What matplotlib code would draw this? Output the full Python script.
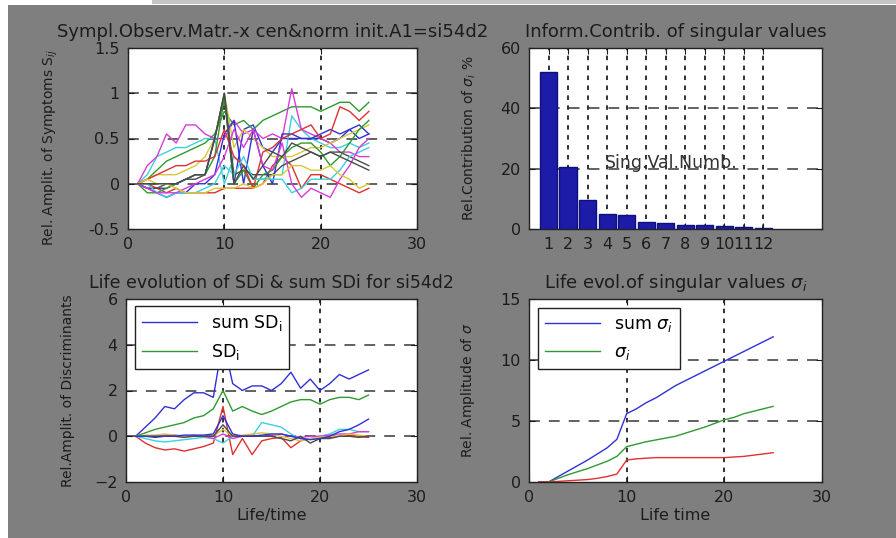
import numpy as np
import matplotlib.pyplot as plt
from matplotlib.patches import Rectangle

#%% data
life = list(range(1, 26))

# symptom amplitudes, one row per symptom (top left)
symptoms = [
    [0, -0.05, -0.05, -0.05, 0, 0.05, 0.1, 0.1, 0.5, 0.95, 0.0, 0.6, 0.65, 0.4, 0.35, 0.5, 0.5, 0.5, 0.5, 0.5, 0.45, 0.5, 0.6, 0.5, 0.55],
    [0, 0.05, 0.15, 0.25, 0.3, 0.35, 0.4, 0.45, 0.55, 0.8, 0.65, 0.7, 0.6, 0.7, 0.75, 0.8, 0.85, 0.85, 0.85, 0.8, 0.85, 0.9, 0.9, 0.8, 0.9],
    [0, 0, -0.05, -0.1, -0.05, -0.1, -0.1, -0.1, -0.1, -0.05, -0.05, -0.05, -0.05, 0, 0.2, 0.3, 0.2, -0.05, 0.1, 0.1, 0.05, 0.0, -0.05, -0.1, -0.05],
    [0, 0.1, 0.3, 0.35, 0.4, 0.4, 0.45, 0.5, 0.5, 0.0, 0.3, 0.2, 0.05, 0.05, 0.1, 0.1, 0.75, 0.6, 0.5, 0.45, 0.4, 0.4, 0.45, 0.4, 0.45],
    [0, 0.2, 0.3, 0.55, 0.45, 0.65, 0.65, 0.55, 0.5, 0.5, 0.7, 0.55, 0.6, 0.5, 0.55, 0.5, 1.05, 0.6, 0.55, 0.5, 0.45, 0.35, 0.35, 0.3, 0.3],
    [0, 0.05, 0.1, 0.1, 0.1, 0.15, 0.2, 0.3, 0.5, 1.0, 0.4, 0.6, 0.5, 0.4, 0.3, 0.3, 0.3, 0.35, 0.4, 0.4, 0.45, 0.5, 0.55, 0.6, 0.65],
    [0, -0.05, -0.05, 0, 0, 0.05, 0.05, 0.1, 0.5, 1.0, 0.1, 0.15, 0.1, 0.1, 0.1, 0.2, 0.25, 0.3, 0.35, 0.3, 0.35, 0.35, 0.3, 0.25, 0.2],
    [0, -0.05, -0.1, -0.15, -0.1, -0.1, 0.0, 0.0, 0.1, 0.55, 0.7, 0.0, 0.6, 0.2, 0.0, 0.55, 0.55, 0.5, 0.5, 0.55, 0.6, 0.55, 0.6, 0.65, 0.55],
    [0, -0.1, -0.1, -0.05, 0.0, 0.05, 0.1, 0.1, 0.3, 0.95, 0.0, 0.15, -0.05, 0.1, 0.15, 0.3, 0.4, 0.45, 0.45, 0.35, 0.2, 0.3, 0.45, 0.6, 0.7],
    [0, 0.05, 0.1, 0.15, 0.2, 0.2, 0.25, 0.25, 0.3, 0.6, 0.3, 0.2, -0.05, 0.35, 0.4, 0.5, 0.55, 0.6, 0.65, 0.5, 0.55, 0.85, 0.8, 0.7, 0.8],
    [0, 0, -0.1, -0.15, -0.1, -0.1, -0.1, -0.05, 0.0, 0.2, 0.1, 0.3, 0.05, 0.05, 0.05, 0.05, -0.1, -0.05, 0.05, 0.05, 0.05, 0.15, 0.3, 0.35, 0.4],
    [0, -0.05, -0.1, -0.1, -0.1, -0.05, 0.0, 0.05, 0.1, 0.3, 0.6, 0.4, 0.6, 0.2, 0.15, 0.45, 0.0, -0.15, -0.05, -0.1, -0.15, 0.05, 0.2, 0.4, 0.5],
    [0, 0.05, 0, 0.0, -0.05, -0.1, -0.1, -0.1, -0.05, -0.05, -0.05, 0.0, -0.05, 0.0, 0.1, 0.1, 0.2, 0.2, 0.15, 0.15, 0.2, 0.1, 0.05, -0.05, 0.0],
    [0, 0, 0, 0, 0, 0.05, 0.1, 0.1, 0.5, 1.0, 0.0, 0.2, 0.05, 0.2, 0.35, 0.3, 0.45, 0.4, 0.35, 0.3, 0.35, 0.3, 0.25, 0.2, 0.15],
]
sym_ticks = [-0.5, 0, 0.5, 1, 1.5]
sym_tick_labels = ['-0.5', '0', '0.5', '1', '1.5']

# singular value contributions (top right)
sing_num = list(range(1, 13))
sing_contrib = [52, 20.5, 9.5, 5, 4.7, 2.3, 2.0, 1.4, 1.4, 1.0, 0.5, 0.4]

# discriminants (bottom left)
sum_sd = [0, 0.4, 0.8, 1.3, 1.2, 1.6, 1.9, 1.9, 1.7, 4.2, 2.3, 2.0, 2.2, 2.2, 2.0, 2.3, 2.8, 2.1, 2.5, 2.0, 2.3, 2.7, 2.5, 2.7, 2.9]
sd = [
    [0, 0.15, 0.3, 0.4, 0.5, 0.6, 0.8, 0.9, 1.2, 2.0, 1.1, 1.3, 1.1, 0.95, 1.1, 1.3, 1.5, 1.6, 1.6, 1.4, 1.6, 1.7, 1.7, 1.6, 1.8],
    [0, -0.3, -0.5, -0.6, -0.55, -0.65, -0.55, -0.45, -0.3, 1.3, -0.8, -0.1, -0.8, -0.2, -0.1, -0.05, -0.5, -0.2, -0.1, -0.1, -0.05, 0.0, 0.05, 0.0, -0.05],
    [0, -0.1, -0.2, -0.25, -0.2, -0.15, -0.1, -0.05, -0.1, -0.3, 0.0, 0.0, 0.0, 0.6, 0.5, 0.4, 0.1, -0.1, -0.1, 0.0, 0.1, 0.3, 0.3, 0.2, 0.2],
    [0, 0, 0, 0.05, 0.05, 0.0, 0.0, 0.0, -0.1, 0.1, -0.1, 0.0, 0.05, 0.0, 0.0, 0.1, 0.0, -0.05, 0.0, 0.0, 0.05, 0.1, 0.1, 0.2, 0.2],
    [0, 0.05, 0.05, 0.1, 0.05, 0.0, 0.05, 0.0, 0.0, 0.3, 0.0, 0.05, 0.1, 0.15, 0.1, 0.0, -0.1, -0.2, -0.1, -0.05, 0.0, 0.0, 0.1, 0.05, 0.0],
    [0, 0, -0.05, 0.0, 0.0, -0.05, 0.0, 0.0, 0.0, 0.5, 0.0, 0.0, 0.0, 0.0, 0.0, -0.1, -0.2, 0.0, -0.3, -0.1, -0.1, 0.0, 0.0, -0.05, 0.0],
    [0, 0, 0, 0, 0, 0.05, 0.05, 0.05, 0.1, 0.9, 0.1, 0.0, 0.0, 0.05, 0.1, 0.1, 0.0, -0.1, -0.15, -0.1, 0.0, 0.2, 0.3, 0.5, 0.75],
]

# singular values evolution (bottom right)
sum_sigma = [0, 0, 0.45, 0.9, 1.35, 1.8, 2.3, 2.8, 3.5, 5.6, 6.0, 6.5, 6.9, 7.4, 7.9, 8.3, 8.7, 9.1, 9.5, 9.9, 10.3, 10.7, 11.1, 11.5, 11.9]
sigma = [
    [0, 0, 0.3, 0.6, 0.85, 1.1, 1.4, 1.7, 2.1, 2.9, 3.1, 3.3, 3.45, 3.6, 3.75, 4.0, 4.25, 4.5, 4.8, 5.1, 5.3, 5.6, 5.8, 6.0, 6.2],
    [0, 0, 0.05, 0.1, 0.15, 0.2, 0.3, 0.45, 0.65, 1.8, 1.9, 1.95, 2.0, 2.0, 2.0, 2.0, 2.0, 2.0, 2.0, 2.0, 2.05, 2.1, 2.2, 2.3, 2.4],
]

#%% style
plt.rcParams['font.family'] = ['DejaVu Sans']
txt = '#1c1c1c'
mcols = ['#3030d8', '#2f9a2f', '#e03030', '#3cd0e0', '#d83cd8', '#d8c838', '#4a4a4a']
bg = '#7f7f7f'


def matlab_axes(ax, xlim, ylim, xticks, yticks, xgrid, ygrid):
    ax.set_xlim(xlim)
    ax.set_ylim(ylim)
    ax.set_xticks(xticks)
    ax.set_yticks(yticks)
    for v in ygrid:
        ax.axhline(v, color='#555555', lw=1.3, ls=(0, (6, 5)), zorder=1)
    for v in xgrid:
        ax.axvline(v, color='#222222', lw=1.3, ls=(0, (2.5, 3)), zorder=1)
    ax.tick_params(direction='in', length=4, top=True, right=True,
                   labelsize=11.5, colors=txt, pad=6)
    for s in ax.spines.values():
        s.set_color('#222222')
        s.set_linewidth(1)


fig = plt.figure(figsize=(8.96, 5.38), dpi=100, facecolor='white')
fig.patches.append(Rectangle((8 / 896, 0), 1, (538 - 5) / 538, transform=fig.transFigure,
                             facecolor=bg, edgecolor='none', zorder=-10))
fig.patches.append(Rectangle((152 / 896, (538 - 4) / 538), 1, 4 / 538, transform=fig.transFigure,
                             facecolor='#c4c4c4', edgecolor='none', zorder=-10))

ax1 = fig.add_axes([128 / 896, 1 - 229 / 538, 289 / 896, 181 / 538])
ax2 = fig.add_axes([529 / 896, 1 - 229 / 538, 293 / 896, 181 / 538])
ax3 = fig.add_axes([126 / 896, 1 - 482 / 538, 291 / 896, 183 / 538])
ax4 = fig.add_axes([529 / 896, 1 - 482 / 538, 293 / 896, 183 / 538])

#%% top left
for i, s in enumerate(symptoms):
    ax1.plot(life, s, color=mcols[i % 7], lw=1, zorder=2)
matlab_axes(ax1, (0, 30), (-0.5, 1.5), [0, 10, 20, 30], sym_ticks,
            [10, 20], [0, 0.5, 1])
ax1.set_yticklabels(sym_tick_labels)
ax1.set_title('Sympl.Observ.Matr.-x cen&norm init.A1=si54d2', fontsize=13, color=txt, pad=8)
ax1.set_ylabel('Rel. Amplit. of Symptoms S$_{ij}$', fontsize=10, color=txt)
ax1.yaxis.set_label_coords(-0.235, 0.45)

#%% top right
ax2.bar(sing_num, sing_contrib, width=0.88, color='#1c1ca8', edgecolor='#10107a', zorder=3)
matlab_axes(ax2, (0, 15), (0, 60), sing_num, [0, 20, 40, 60], sing_num, [20, 40])
ax2.set_title('Inform.Contrib. of singular values', fontsize=13, color=txt, pad=8)
ax2.set_ylabel('Rel.Contribution of $\\sigma_i$ %', fontsize=10, color=txt)
ax2.yaxis.set_label_coords(-0.174, 0.5)
ax2.text(3.9, 22, 'Sing.Val.Numb.', fontsize=12.5, color='#333333', va='center', zorder=4)

#%% bottom left
l1, = ax3.plot(life, sum_sd, color=mcols[0], lw=1, zorder=2)
hs = []
for i, s in enumerate(sd):
    h, = ax3.plot(life, s, color=mcols[(i + 1) % 7], lw=1, zorder=2)
    hs.append(h)
matlab_axes(ax3, (0, 30), (-2, 6), [0, 10, 20, 30], [-2, 0, 2, 4, 6], [10, 20], [0, 2, 4])
ax3.set_title('Life evolution of SDi & sum SDi for si54d2', fontsize=12.5, color=txt, pad=8)
ax3.set_ylabel('Rel.Amplit. of Discriminants', fontsize=10, color=txt)
ax3.yaxis.set_label_coords(-0.175, 0.5)
ax3.set_xlabel('Life/time', fontsize=11.5, color=txt, labelpad=2)
leg = ax3.legend([l1, hs[0]], ['sum SD$_\\mathregular{i}$', 'SD$_\\mathregular{i}$'],
                 loc='upper left', bbox_to_anchor=(0.03, 0.96), fontsize=12.5,
                 handlelength=3.2, fancybox=False, framealpha=1, borderaxespad=0)
leg.get_frame().set_edgecolor('#222222')
leg.get_frame().set_linewidth(1)
leg.set_zorder(5)

#%% bottom right
m1, = ax4.plot(life, sum_sigma, color=mcols[0], lw=1, zorder=2)
gs = []
for i, s in enumerate(sigma):
    h, = ax4.plot(life, s, color=mcols[(i + 1) % 7], lw=1, zorder=2)
    gs.append(h)
matlab_axes(ax4, (0, 30), (0, 15), [0, 10, 20, 30], [0, 5, 10, 15], [10, 20], [5, 10])
ax4.set_title('Life evol.of singular values $\\sigma_i$', fontsize=13, color=txt, pad=8)
ax4.set_ylabel('Rel. Amplitude of $\\sigma$', fontsize=10, color=txt)
ax4.yaxis.set_label_coords(-0.178, 0.5)
ax4.set_xlabel('Life time', fontsize=11.5, color=txt, labelpad=2)
leg2 = ax4.legend([m1, gs[0]], ['sum $\\sigma_i$', '$\\sigma_i$'],
                  loc='upper left', bbox_to_anchor=(0.03, 0.95), fontsize=12.5,
                  handlelength=3.2, fancybox=False, framealpha=1, borderaxespad=0)
leg2.get_frame().set_edgecolor('#222222')
leg2.get_frame().set_linewidth(1)

fig.savefig('out.png', dpi=100, facecolor=fig.get_facecolor())
